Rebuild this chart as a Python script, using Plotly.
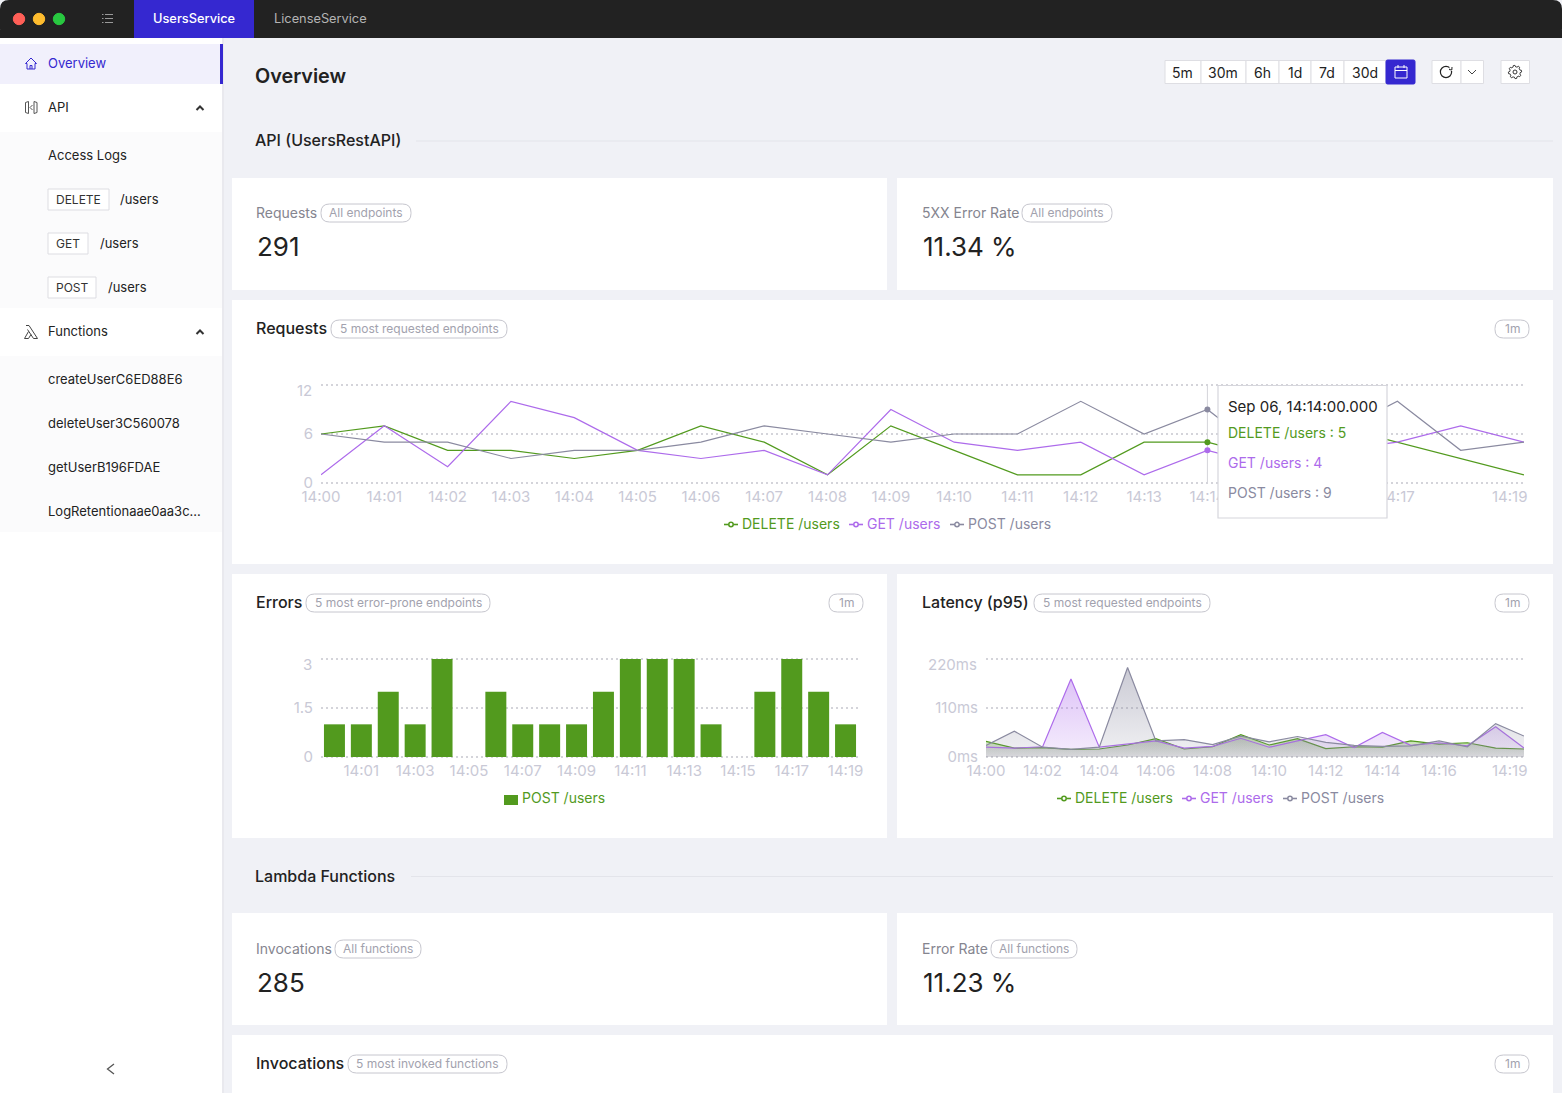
import math
import plotly.graph_objects as go

W, H = 1562, 1093
MINUTES = ["14:%02d" % m for m in range(20)]

REQ_DELETE = [6, 7, 4, 4, 3, 4, 7, 5, 1, 7, 4, 1, 1, 5, 5, 3, 7, 5, 3, 1]
REQ_GET = [1, 7, 2, 10, 8, 4, 3, 4, 1, 9, 5, 4, 5, 1, 4, 2, 4, 5, 7, 5]
REQ_POST = [6, 5, 5, 3, 4, 4, 5, 7, 6, 5, 6, 6, 10, 6, 9, 3, 6, 10, 4, 5]
ERR_POST = [1, 1, 2, 1, 3, 0, 2, 1, 1, 1, 2, 3, 3, 3, 1, 0, 2, 3, 2, 1]
LAT_DELETE = [35, 20, 21, 17, 18, 27, 41, 18, 23, 50, 27, 41, 19, 23, 22, 36, 29, 32, 20, 18]
LAT_GET = [22, 20, 23, 175, 22, 29, 36, 20, 24, 42, 22, 36, 50, 21, 55, 26, 32, 25, 68, 20]
LAT_POST = [26, 58, 22, 17, 22, 201, 36, 39, 28, 47, 34, 46, 33, 26, 24, 25, 36, 23, 75, 47]
HOVER_MINUTE = "14:14"
REQ_TICKS = MINUTES[:15] + ["14:17"]
ERR_TICKS = MINUTES[1::2]
LAT_TICKS = MINUTES[0:17:2]

GREEN, PURPLE, GREY = "#529A1E", "#AD6BEB", "#8A8AA0"
AXC, GRIDC = "#C9C9D6", "#D4D4DA"
INK, BLUE = "#222222", "#3528D0"
BORDER, FONT = "#D6D6DC", "Inter"


def X(p): return p / W
def Y(p): return 1 - p / H


shapes, notes = [], []


def rect(x0, y0, x1, y1, fill="white", line=None, lw=1, layer="below"):
    shapes.append(dict(type="rect", xref="paper", yref="paper", x0=X(x0), x1=X(x1), y0=Y(y0), y1=Y(y1),
                       fillcolor=fill, line=dict(color=line or "rgba(0,0,0,0)", width=lw if line else 0), layer=layer))


def rrect(x0, y0, x1, y1, r, fill="rgba(0,0,0,0)", line=BORDER, lw=1, layer="below"):
    p = (f"M{X(x0+r)},{Y(y0)} L{X(x1-r)},{Y(y0)} Q{X(x1)},{Y(y0)} {X(x1)},{Y(y0+r)} "
         f"L{X(x1)},{Y(y1-r)} Q{X(x1)},{Y(y1)} {X(x1-r)},{Y(y1)} L{X(x0+r)},{Y(y1)} "
         f"Q{X(x0)},{Y(y1)} {X(x0)},{Y(y1-r)} L{X(x0)},{Y(y0+r)} Q{X(x0)},{Y(y0)} {X(x0+r)},{Y(y0)} Z")
    shapes.append(dict(type="path", xref="paper", yref="paper", path=p, fillcolor=fill,
                       line=dict(color=line, width=lw), layer=layer))


def poly(pts, color=INK, lw=1, close=False, layer="below", fill=None):
    p = "M" + " L".join(f"{X(a)},{Y(b)}" for a, b in pts) + (" Z" if close else "")
    d = dict(type="path", xref="paper", yref="paper", path=p, line=dict(color=color, width=lw), layer=layer)
    if fill:
        d["fillcolor"] = fill
    shapes.append(d)


def circle(cx, cy, r, fill, line=None, lw=1, layer="below"):
    shapes.append(dict(type="circle", xref="paper", yref="paper", x0=X(cx-r), x1=X(cx+r), y0=Y(cy-r), y1=Y(cy+r),
                       fillcolor=fill, line=dict(color=line or fill, width=lw), layer=layer))


def text(x, y, s, size=13, color=INK, anchor="left", weight=400):
    notes.append(dict(xref="paper", yref="paper", x=X(x - 1), y=Y(y - 1), text=s, showarrow=False, xanchor=anchor,
                      yanchor="middle", borderpad=0, align=anchor,
                      font=dict(family=FONT, size=size, color=color, weight=weight)))


def pill(x0, x1, yc, s):
    rrect(x0, yc-9, x1, yc+9, 8.5, line="#C6C6CE")
    text((x0+x1)/2 + 1, yc + 0.5, s, 12, "#A2A2AE", "center")


def legend_item(x, y, color, s):
    poly([(x, y), (x+14, y)], color, 1.6)
    circle(x+7, y, 2.2, "white", color, 1.5)
    text(x+18, y, s, 14, color)


# ---- window chrome ----
rect(0, 38, 222, H, "white")
rect(0, 132, 222, 308, "#FBFBFC")
rect(0, 356, 222, 532, "#FBFBFC")
rect(222, 38, 224, H, "#E9E9EE")
rrect(0, 0, W, 38, 9, fill="#222222", line="#222222", lw=0)
rect(0, 30, W, 38, "#222222")
rect(134, 0, 254, 38, BLUE)
for cx, c in [(19, "#FF5F57"), (39, "#FEBC2E"), (59, "#28C840")]:
    circle(cx, 19, 5.7, c)
for yy in (14.5, 18.5, 22.5):
    poly([(105, yy), (113, yy)], "#9A9A9A", 1)
    poly([(102, yy), (103.5, yy)], "#9A9A9A", 1)
text(194.5, 19.5, "UsersService", 12.8, "white", "center", 500)
text(321, 19.5, "LicenseService", 12.8, "#B4B4B4", "center")

# ---- sidebar ----
rect(0, 44, 220, 84, "#F1F0FC")
rect(220, 44, 223, 84, BLUE)
poly([(25.5, 63.5), (31, 58), (36.5, 63.5), (35, 63.5), (35, 69), (27, 69), (27, 63.5), (25.5, 63.5)], BLUE, 1)
poly([(30, 69), (30, 65.5), (32, 65.5), (32, 69)], BLUE, 1)
text(48, 64.5, "Overview", 13, BLUE)
poly([(28.5, 101.5), (25.5, 102.5), (25.5, 112.5), (28.5, 113.5), (28.5, 101.5)], "#555555", 1)
poly([(34, 101.5), (37, 102.5), (37, 112.5), (34, 113.5), (34, 101.5)], "#555555", 1)
poly([(32.5, 105), (30, 107.5), (32.5, 110)], "#555555", 1)
text(48, 108.5, "API", 13)
poly([(196.5, 110), (200, 106.5), (203.5, 110)], "#333333", 2)
for y, s in [(155.5, "Access Logs"), (379.5, "createUserC6ED88E6"), (423.5, "deleteUser3C560078"),
             (467.5, "getUserB196FDAE"), (511.5, "LogRetentionaae0aa3c...")]:
    text(48, y, s, 13)
for x1, y, verb, xp in [(109, 199.5, "DELETE", 120), (88, 243.5, "GET", 100), (96, 287.5, "POST", 108)]:
    rect(48, y-10.5, x1, y+10.5, "white", "#DDDDE2")
    text((48+x1)/2 + 1, y + 1, verb, 12, "#333333", "center")
    text(xp, y, "/users", 13)
poly([(26, 325.5), (29, 325.5), (37.5, 338.5), (33.5, 338.5), (27.5, 329.5)], "#444444", 1)
poly([(28.5, 331.5), (24.5, 338.5), (28.5, 338.5), (31, 334.5)], "#444444", 1)
text(48, 331.5, "Functions", 13)
poly([(196.5, 334), (200, 330.5), (203.5, 334)], "#333333", 2)
poly([(114, 1064), (107.5, 1069), (114, 1074)], "#555555", 1.3)

# ---- page header ----
text(255, 76.5, "Overview", 19.8, INK, "left", 600)
BTN = [(1165, 1201, "5m"), (1201, 1246, "30m"), (1246, 1279, "6h"), (1279, 1311, "1d"), (1311, 1344, "7d"), (1344, 1386, "30d")]
for x0, x1, s in BTN:
    rect(x0, 60.5, x1, 83.5, "white", "#DEDEE3")
    text((x0+x1)/2 + 0.5, 73, s, 14, INK, "center")
rrect(1386, 60, 1415, 84, 1.5, fill=BLUE, line=BLUE)
rect(1395, 67, 1407, 78, BLUE, "white", 1)
poly([(1395, 70.5), (1407, 70.5)], "white", 1)
poly([(1398, 65), (1398, 68)], "white", 1)
poly([(1404, 65), (1404, 68)], "white", 1)
rect(1432, 60.5, 1461, 83.5, "white", "#DEDEE3")
rect(1461, 60.5, 1483.5, 83.5, "white", "#DEDEE3")
circle(1446, 72, 5.6, "white", "#222222", 1.2)
rect(1449.5, 67, 1453, 71, "white")
poly([(1449, 69.5), (1451.8, 70), (1452, 67)], "#222222", 1)
poly([(1468, 70), (1472, 74), (1476, 70)], "#444444", 1)
rect(1501, 60.5, 1529.5, 83.5, "white", "#DEDEE3")
gear = []
for i in range(48):
    a = 2 * math.pi * i / 48
    r = 6.6 if (i + 2) % 6 < 3 else 5.2
    gear.append((1515 + r * math.cos(a), 72 + r * math.sin(a)))
poly(gear, "#333333", 1, close=True)
circle(1515, 72, 2, "white", "#333333", 1)

text(255, 140.5, "API (UsersRestAPI)", 16, INK, "left", 500)
poly([(416, 141), (1553, 141)], "#E3E4EA", 1)
text(255, 876.5, "Lambda Functions", 16, INK, "left", 500)
poly([(411, 876.5), (1553, 876.5)], "#E3E4EA", 1)

# ---- cards ----
for c in [(232, 178, 887, 290), (897, 178, 1553, 290), (232, 300, 1553, 564), (232, 574, 887, 838),
          (897, 574, 1553, 838), (232, 913, 887, 1025), (897, 913, 1553, 1025), (232, 1035, 1553, H)]:
    rect(*c)

STAT = "#85858F"
text(256, 214, "Requests", 14, STAT); pill(321, 411, 213, "All endpoints")
text(257, 248, "291", 26, INK)
text(922, 214, "5XX Error Rate", 14, STAT); pill(1022, 1112, 213, "All endpoints")
text(923, 248, "11.34 %", 26, INK)
text(256, 949, "Invocations", 14, STAT); pill(335, 421, 949, "All functions")
text(257, 983, "285", 26, INK)
text(922, 949, "Error Rate", 14, STAT); pill(991, 1077, 949, "All functions")
text(923, 983, "11.23 %", 26, INK)

text(256, 329, "Requests", 16, INK, "left", 500); pill(331, 507, 329, "5 most requested endpoints"); pill(1495, 1529, 329, "1m")
text(256, 603, "Errors", 16, INK, "left", 500); pill(306, 490, 603, "5 most error-prone endpoints"); pill(829, 863, 603, "1m")
text(922, 603, "Latency (p95)", 16, INK, "left", 500); pill(1034, 1210, 603, "5 most requested endpoints"); pill(1495, 1529, 603, "1m")
text(256, 1064, "Invocations", 16, INK, "left", 500); pill(348, 507, 1064, "5 most invoked functions"); pill(1495, 1529, 1064, "1m")

# ---- legends ----
legend_item(724, 524.5, GREEN, "DELETE /users")
legend_item(849, 524.5, PURPLE, "GET /users")
legend_item(950, 524.5, GREY, "POST /users")
rect(504, 795, 518, 805, GREEN)
text(522, 798.5, "POST /users", 14, GREEN)
legend_item(1057, 798.5, GREEN, "DELETE /users")
legend_item(1182, 798.5, PURPLE, "GET /users")
legend_item(1283, 798.5, GREY, "POST /users")

# ---- figure and charts ----
fig = go.Figure()


def line(xa, ya, y, color, name, fill=None):
    kw = {}
    if fill:
        kw = dict(fill="tozeroy", fillgradient=dict(type="vertical", colorscale=fill))
    fig.add_trace(go.Scatter(x=MINUTES, y=y, mode="lines", name=name, xaxis=xa, yaxis=ya, showlegend=False,
                             line=dict(color=color, width=1.2), hoverinfo="skip", **kw))


line("x", "y", REQ_DELETE, GREEN, "DELETE /users")
line("x", "y", REQ_GET, PURPLE, "GET /users")
line("x", "y", REQ_POST, GREY, "POST /users")
idx = MINUTES.index(HOVER_MINUTE)
for series, color in [(REQ_DELETE, GREEN), (REQ_GET, PURPLE), (REQ_POST, GREY)]:
    fig.add_trace(go.Scatter(x=[HOVER_MINUTE], y=[series[idx]], mode="markers", showlegend=False, xaxis="x", yaxis="y",
                             marker=dict(color=color, size=6), hoverinfo="skip"))
fig.add_trace(go.Bar(x=MINUTES, y=ERR_POST, marker=dict(color=GREEN, line=dict(width=0)), xaxis="x2", yaxis="y2",
                     showlegend=False, hoverinfo="skip", name="POST /users"))


def grad(rgb, a):
    return [[0, f"rgba({rgb},0.12)"], [1, f"rgba({rgb},{a})"]]


line("x3", "y3", LAT_DELETE, GREEN, "DELETE /users", grad("82,154,30", 0.4))
line("x3", "y3", LAT_GET, PURPLE, "GET /users", grad("173,107,235", 0.4))
line("x3", "y3", LAT_POST, GREY, "POST /users", grad("138,138,160", 0.45))


def xax(dom, ticks, rng):
    return dict(domain=[X(dom[0]), X(dom[1])], type="category", categoryorder="array", categoryarray=MINUTES,
                range=rng, tickmode="array", tickvals=ticks, ticktext=ticks, showgrid=False, showline=False,
                zeroline=False, ticks="", ticklabelstandoff=1, automargin=False,
                tickfont=dict(family=FONT, size=15, color=AXC), tickangle=0)


def yax(dom, rng, vals, labels):
    # two pixels of headroom on each side so the first and last dotted grid lines are drawn
    pad = 2 * (rng[1] - rng[0]) / (dom[1] - dom[0])
    return dict(domain=[Y(dom[1] + 2), Y(dom[0] - 2)], range=[rng[0] - pad, rng[1] + pad], tickmode="array",
                tickvals=vals, ticktext=labels, showgrid=True, gridcolor=GRIDC, griddash="2px,3px", gridwidth=1.6,
                showline=False, zeroline=False, ticks="", ticklabelstandoff=7, automargin=False,
                tickfont=dict(family=FONT, size=15, color=AXC))


REQ_Y, ERR_Y, LAT_Y = [0, 6, 12], [0, 1.5, 3], [0, 110, 220]
fig.update_layout(
    xaxis=dict(xax((321, 1524), REQ_TICKS, [0, 19]), anchor="y"),
    yaxis=dict(yax((385, 483), [0, 12], REQ_Y, ["0", "6", " "]), anchor="x"),
    xaxis2=dict(xax((321, 859), ERR_TICKS, [-0.5, 19.5]), anchor="y2"),
    yaxis2=dict(yax((659, 757), [0, 3], ERR_Y, ["0", "1.5", " "]), anchor="x2"),
    xaxis3=dict(xax((986, 1524), LAT_TICKS, [0, 19]), anchor="y3"),
    yaxis3=dict(yax((659, 757), [0, 220], LAT_Y, ["0ms", "110ms", " "]), anchor="x3"),
    bargap=0.22,
)


def top_label(ya, val, s, xpx):
    notes.append(dict(xref="paper", yref=ya, x=X(xpx), y=val, text=s, showarrow=False, xanchor="right", yanchor="middle",
                      yshift=-5, font=dict(family=FONT, size=15, color=AXC)))


top_label("y", 12, "12", 314)
top_label("y2", 3, "3", 314)
top_label("y3", 220, "220ms", 979)
for xa, ya in [("x", "y"), ("x3", "y3")]:
    notes.append(dict(xref=xa, yref=ya, x=MINUTES[-1], y=0, text=MINUTES[-1], showarrow=False, xanchor="center",
                      yanchor="middle", xshift=-14.5, yshift=-13.5, font=dict(family=FONT, size=15, color=AXC)))

# hover guide and tooltip
shapes.append(dict(type="line", xref="x", yref="y", x0=HOVER_MINUTE, x1=HOVER_MINUTE, y0=0, y1=12,
                   line=dict(color="#D5D5DA", width=1), layer="below"))
rect(1218, 385.5, 1387, 518, "white", "#D6D6DC", 1.2, layer="above")
text(1228, 407.5, "Sep 06, 14:14:00.000", 15, INK)
text(1228, 433.5, f"DELETE /users : {REQ_DELETE[idx]}", 14, GREEN)
text(1228, 463.5, f"GET /users : {REQ_GET[idx]}", 14, PURPLE)
text(1228, 493.5, f"POST /users : {REQ_POST[idx]}", 14, GREY)

fig.update_layout(width=W, height=H, margin=dict(l=0, r=0, t=0, b=0), paper_bgcolor="#F0F1F6", plot_bgcolor="rgba(0,0,0,0)",
                  shapes=shapes, annotations=notes, showlegend=False, hovermode=False, font=dict(family=FONT))
fig.write_html("out.html", config=dict(displayModeBar=False),
               post_script="document.body.style.margin='0';document.body.style.overflow='hidden';")
